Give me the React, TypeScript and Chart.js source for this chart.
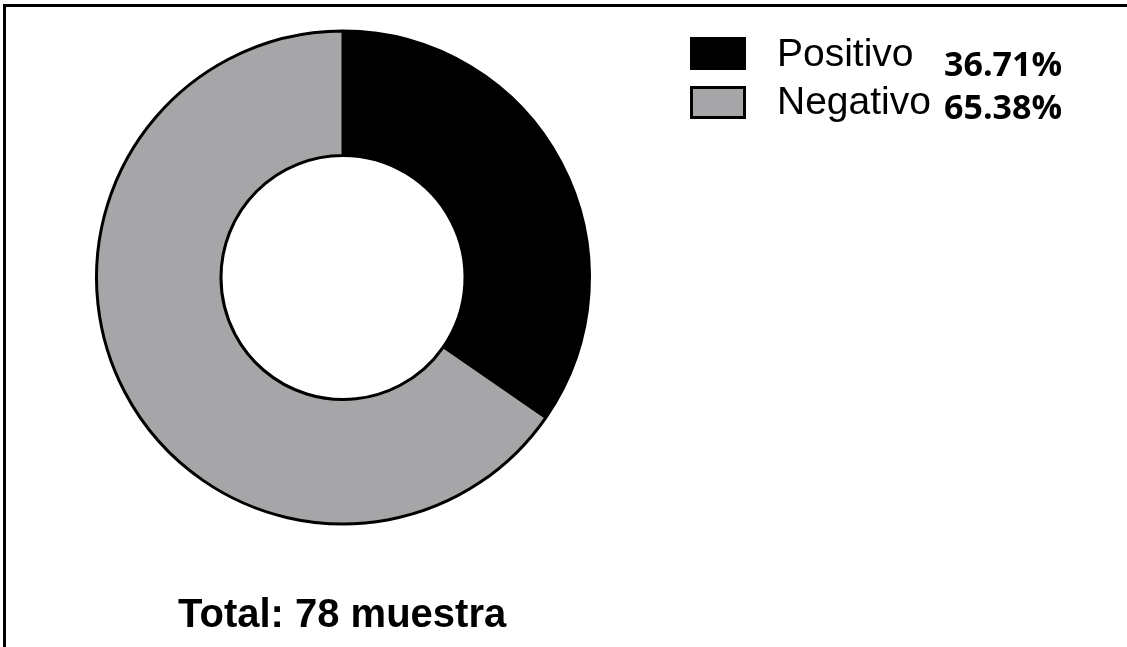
import React, { useEffect, useRef } from "react";
import { Chart, registerables } from "chart.js";

Chart.register(...registerables);

const categories = ["Positivo", "Negativo"];
const sampleCounts = [27, 51];
const percentLabels = ["36.71%", "65.38%"];
const sliceColors = ["#000000", "#a6a6a8"];
const totalLabel = "Total: 78 muestra";

const overlayPlugin = {
  id: "overlayText",
  afterDraw(chart: any) {
    const ctx = chart.ctx;
    const ds = chart.data.datasets[0];
    const labels = chart.data.labels as string[];
    ctx.save();
    const boxX = 690;
    const boxW = 56;
    const boxH = 33;
    const rowTops = [37, 86];
    const textBaselines = [66, 114];
    const pctBaselines = [76, 119];
    labels.forEach((lab, i) => {
      ctx.fillStyle = ds.backgroundColor[i];
      ctx.fillRect(boxX, rowTops[i], boxW, boxH);
      ctx.lineWidth = 3;
      ctx.strokeStyle = "#000";
      ctx.strokeRect(boxX + 1.5, rowTops[i] + 1.5, boxW - 3, boxH - 3);
      ctx.fillStyle = "#000";
      ctx.textAlign = "left";
      ctx.textBaseline = "alphabetic";
      ctx.font = '39px "Liberation Sans", Arial, sans-serif';
      ctx.fillText(lab, 777, textBaselines[i]);
      ctx.font = 'bold 34px "Open Sans", sans-serif';
      ctx.fillText(percentLabels[i], 944, pctBaselines[i]);
    });
    ctx.font = 'bold 40px "Liberation Sans", Arial, sans-serif';
    ctx.fillText(totalLabel, 178, 627);
    ctx.restore();
  },
};

export default function App() {
  const canvasRef = useRef<HTMLCanvasElement | null>(null);
  useEffect(() => {
    document.body.style.margin = "0";
    const chart = new Chart(canvasRef.current as HTMLCanvasElement, {
      type: "doughnut",
      data: {
        labels: categories,
        datasets: [
          {
            data: sampleCounts,
            backgroundColor: sliceColors,
            borderColor: "#000000",
            borderWidth: 3,
          },
        ],
      },
      options: {
        responsive: false,
        animation: false,
        cutout: "49.5%",
        layout: { padding: { left: 95, top: 29.5, right: 536, bottom: 121.5 } },
        plugins: {
          legend: { display: false },
          tooltip: { enabled: false },
        },
      },
      plugins: [overlayPlugin],
    });
    return () => chart.destroy();
  }, []);
  return (
    <div style={{ position: "fixed", left: 0, top: 0, width: 1127, height: 647, background: "#fff" }}>
      <canvas ref={canvasRef} width={1127} height={647} style={{ position: "absolute", left: 0, top: 0 }} />
      <div style={{ position: "absolute", left: 3, top: 4, width: 1124, height: 3, background: "#000" }} />
      <div style={{ position: "absolute", left: 3, top: 4, width: 3, height: 643, background: "#000" }} />
    </div>
  );
}
